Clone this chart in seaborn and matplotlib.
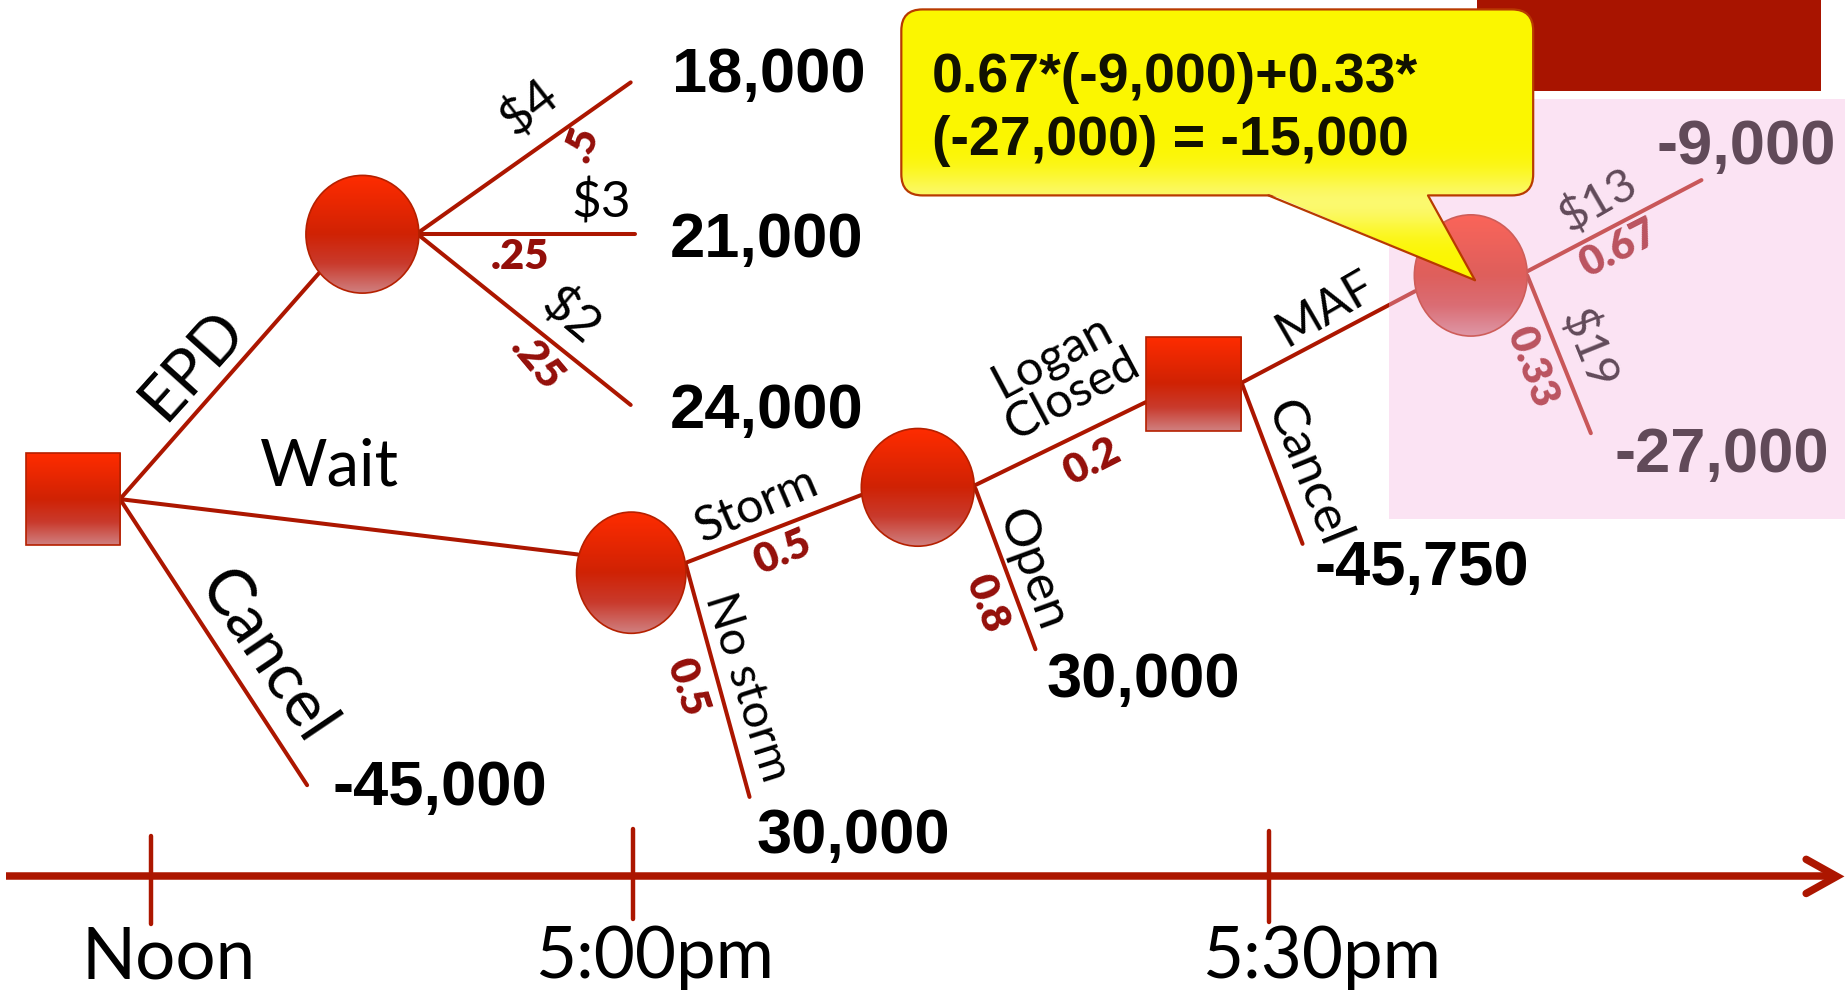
import numpy as np
import pandas as pd
import matplotlib
matplotlib.use("Agg")
import matplotlib.pyplot as plt
import seaborn as sns
from matplotlib.patches import Ellipse, Rectangle, FancyBboxPatch, Polygon
from matplotlib.colors import LinearSegmentedColormap

sns.set_theme(style="white")
plt.rcParams["font.family"] = ["Lato", "DejaVu Sans"]

# ---------------------------------------------------------------- data
branch_names = ["EPD", "Wait", "Cancel", "$4", "$3", "$2", "Storm", "No storm",
                "Logan\nClosed", "Open", "MAF", "Cancel", "$13", "$19"]
branch_probs = ["", "", "", ".5", ".25", ".25", "0.5", "0.5",
                "0.2", "0.8", "", "", "0.67", "0.33"]
payoff_values = [18000, 21000, 24000, -45000, 30000, 30000, -45750, -9000, -27000]
maf_probs = [0.67, 0.33]
maf_payoffs = [-9000, -27000]
time_labels = ["Noon", "5:00pm", "5:30pm"]

# ---------------------------------------------------------------- layout (canvas units)
W, H = 1568, 841
node_kind = ["decision", "chance", "chance", "chance", "decision", "chance"]
node_x = [62, 308, 536.5, 780, 1014.5, 1250]
node_y = [424, 199, 486.5, 414, 326, 234]
node_w = [80, 96, 93, 96, 81, 96]
node_h = [78, 100, 103, 100, 80, 103]

edge_x0 = [102, 102, 102, 355, 355, 355, 583, 583, 827, 829, 1055.5, 1055.5, 1298, 1298]
edge_y0 = [424, 424, 424, 198, 199, 199, 478, 480, 413, 415, 325, 326, 230.5, 234]
edge_x1 = [272, 491, 261, 536, 540, 536, 732, 637, 974, 880, 1202.6, 1107, 1446, 1352]
edge_y1 = [231, 471, 667, 70, 199, 344, 420.5, 677, 341.5, 551.5, 247.4, 462, 153, 368]

# label placement per branch: (x, y, rotation, size)
name_pos = [(163, 310, 48, 46), (280, 397, 0, 47), (226.6, 558, -56, 47),
            (450, 92, 38, 37), (511, 172.5, 0, 37), (484.5, 269.5, -40, 37),
            (643, 429, 23, 35), (634.6, 583.6, -72.5, 34), (903, 319, 28, 35),
            (876.8, 484.4, -70, 37), (1126, 262, 30, 35), (1110.5, 402, -68, 37),
            (1358.3, 170, 30, 34), (1349.8, 297.4, -68, 34)]
prob_pos = [None, None, None, (495, 122, 70), (442, 218, 0), (456, 308, -50),
            (664.6, 469, 23), (583.6, 583.6, -72), (927.8, 392.4, 27),
            (838.5, 512.7, -70), None, None, (1375.3, 211, 27), (1301.7, 311.6, -70)]
payoff_pos = [(571, 78), (569, 218), (569, 364), (283, 684), (643, 724.5),
              (889, 592), (1117, 497), (1408, 139), (1372, 400.7)]
tick_x = [128.6, 537.6, 1078.5]
tick_top = [710, 704, 706]
tick_bot = [785, 781, 783]
time_label_x = [143.5, 556, 1123.5]
axis_y = 744.5

LINE = "#AC1600"
PROB = "#940F0A"
BOLD_FONT = ["Liberation Sans", "DejaVu Sans"]

fig = plt.figure(figsize=(18.45, 9.90), dpi=100)
ax = fig.add_axes([0, 0, 1, 1])

# ---------------------------------------------------------------- branches
seg = pd.DataFrame({
    "x": np.ravel(np.column_stack([edge_x0, edge_x1])),
    "y": np.ravel(np.column_stack([edge_y0, edge_y1])),
    "edge": np.repeat(np.arange(len(edge_x0)), 2),
})
sns.lineplot(data=seg, x="x", y="y", units="edge", estimator=None, sort=False,
             color=LINE, lw=2.9, ax=ax, legend=False, zorder=2)

ax.set_xlim(0, W)
ax.set_ylim(H, 0)
ax.set_autoscale_on(False)
ax.axis("off")

# ---------------------------------------------------------------- nodes with shading
node_cmap = LinearSegmentedColormap.from_list(
    "node", [(0.0, "#ff2c00"), (0.5, "#d02204"), (0.75, "#c93a2c"), (1.0, "#d08080")])
grad = np.linspace(0, 1, 256).reshape(-1, 1)


def shaded(patch, x0, x1, y0, y1, cmap, z):
    ax.add_patch(patch)
    im = ax.imshow(grad, cmap=cmap, extent=(x0, x1, y1, y0), origin="upper",
                   aspect="auto", zorder=z, interpolation="bicubic")
    im.set_clip_path(patch)


for kind, cx, cy, w, h in zip(node_kind, node_x, node_y, node_w, node_h):
    if kind == "chance":
        p = Ellipse((cx, cy), w, h, facecolor="none", edgecolor="#b52000", lw=1.2, zorder=4)
    else:
        p = Rectangle((cx - w / 2, cy - h / 2), w, h, facecolor="none",
                      edgecolor="#b52000", lw=1.2, zorder=4)
    shaded(p, cx - w / 2, cx + w / 2, cy - h / 2, cy + h / 2, node_cmap, 3)

# ---------------------------------------------------------------- branch text
for name, pos in zip(branch_names, name_pos):
    x, y, rot, size = pos
    ax.text(x, y, name, fontsize=size, fontweight="normal", rotation=rot,
            rotation_mode="anchor", ha="center", va="center", color="black",
            zorder=5, linespacing=1.0)

for prob, pos in zip(branch_probs, prob_pos):
    if pos is None:
        continue
    x, y, rot = pos
    ax.text(x, y, prob, fontsize=30, fontweight="heavy", rotation=rot,
            rotation_mode="anchor", ha="center", va="center", color=PROB, zorder=5)

for val, (x, y) in zip(payoff_values, payoff_pos):
    ax.text(x, y, f"{val:,}", fontsize=45.5, fontweight="bold", family=BOLD_FONT,
            ha="left", va="baseline", color="black", zorder=6)

# ---------------------------------------------------------------- time line
ax.plot([5, 1559], [axis_y, axis_y], color=LINE, lw=5.4, solid_capstyle="butt", zorder=2)
ax.plot([1535, 1561, 1535], [730, axis_y, 759], color=LINE, lw=5.4,
        solid_capstyle="round", solid_joinstyle="miter", zorder=2)
for tx, t0, t1 in zip(tick_x, tick_top, tick_bot):
    ax.plot([tx, tx], [t0, t1], color=LINE, lw=3.2, zorder=2)
for lab, lx in zip(time_labels, time_label_x):
    ax.text(lx, 831, lab, fontsize=51, fontweight="normal", ha="center",
            va="baseline", color="black", zorder=5)

# ---------------------------------------------------------------- highlighted sub-tree
ax.add_patch(Rectangle((1180.6, 84.4), W - 1180.6, 440.6 - 84.4,
                       facecolor=(245 / 255, 187 / 255, 225 / 255), alpha=0.4,
                       lw=0, zorder=8))
ax.add_patch(Rectangle((1255, -5), 1548 - 1255, 82, facecolor="#A81400", lw=0, zorder=9))

# ---------------------------------------------------------------- callout
ev = sum(p * v for p, v in zip(maf_probs, maf_payoffs))
ev_round = int(round(ev, -3))
call_lines = [f"{maf_probs[0]}*({maf_payoffs[0]:,})+{maf_probs[1]}*",
              f"({maf_payoffs[1]:,}) = {ev_round:,}"]

yy = np.linspace(0, 1, 400)
y_span = (8, 240)
ys = y_span[0] + yy * (y_span[1] - y_span[0])
glow = np.exp(-((ys - 172) / 26.0) ** 2) * 0.6
base = np.array([0.985, 0.965, 0.0])
light = np.array([0.985, 0.985, 0.72])
call_img = (base[None, :] * (1 - glow[:, None]) + light[None, :] * glow[:, None]).reshape(-1, 1, 3)

box = FancyBboxPatch((766, 8), 537, 158, boxstyle="round,pad=0,rounding_size=18",
                     facecolor="none", edgecolor="#B83A00", lw=1.6, zorder=12)
ax.add_patch(box)
im = ax.imshow(call_img, extent=(766, 1303, y_span[1], y_span[0]), origin="upper",
               aspect="auto", zorder=11, interpolation="bilinear")
im.set_clip_path(box)

tip = (1253.5, 238)
pointer = Polygon([(1078, 164.5), (1213.6, 164.5), tip], closed=True,
                  facecolor="none", edgecolor="none", zorder=13)
ax.add_patch(pointer)
im2 = ax.imshow(call_img, extent=(766, 1303, y_span[1], y_span[0]), origin="upper",
                aspect="auto", zorder=13, interpolation="bilinear")
im2.set_clip_path(pointer)
ax.plot([1078, tip[0]], [166, tip[1]], color="#B83A00", lw=1.6, zorder=14)
ax.plot([1213.6, tip[0]], [166, tip[1]], color="#B83A00", lw=1.6, zorder=14)

ax.text(792, 78.3, call_lines[0], fontsize=40, fontweight="bold", family=BOLD_FONT,
        ha="left", va="baseline", color="#111100", zorder=15)
ax.text(792, 132, call_lines[1], fontsize=40, fontweight="bold", family=BOLD_FONT,
        ha="left", va="baseline", color="#111100", zorder=15)

fig.savefig("out.png", dpi=100, facecolor="white")
